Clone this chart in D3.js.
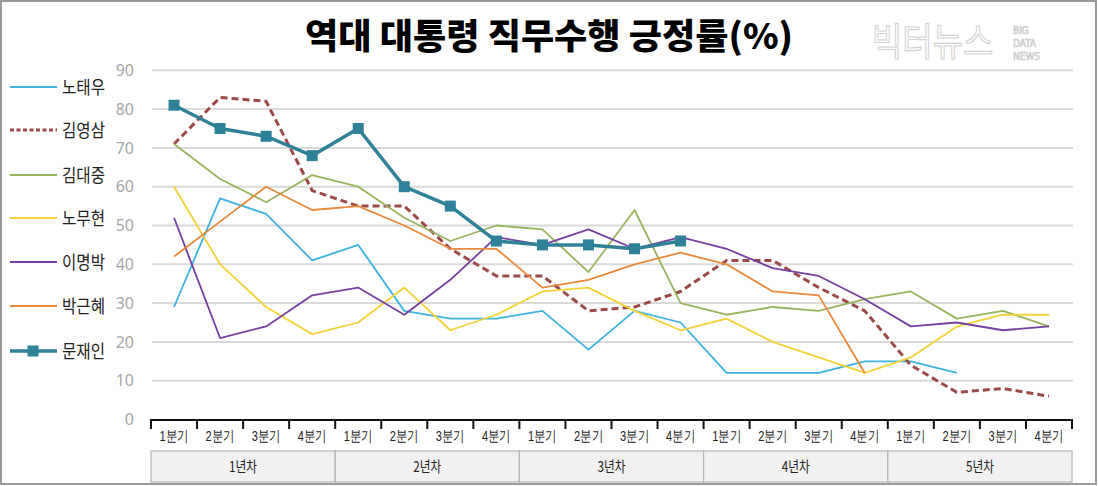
<!DOCTYPE html>
<html><head><meta charset="utf-8">
<script src="https://cdn.jsdelivr.net/npm/d3@7/dist/d3.min.js"></script>
<style>
html,body{margin:0;padding:0;background:#fff;}
svg{display:block;font-family:"Noto Sans CJK KR","Noto Sans",sans-serif;}
</style></head>
<body>
<svg id="chart" width="1098" height="486"></svg>
<script>
const title = "역대 대통령 직무수행 긍정률(%)";
const quarterLabels = ["1분기","2분기","3분기","4분기"];
const yearLabels = ["1년차","2년차","3년차","4년차","5년차"];
const yTicks = [0,10,20,30,40,50,60,70,80,90];

const seriesNames = ["노태우","김영삼","김대중","노무현","이명박","박근혜","문재인"];
const rohTaewoo   = [29,57,53,41,45,28,26,26,28,18,28,25,12,12,12,15,15,12];
const kimYoungsam = [71,83,82,59,55,55,44,37,37,28,29,33,41,41,34,28,14,7,8,6];
const kimDaejung  = [71,62,56,63,60,52,46,50,49,38,54,30,27,29,28,31,33,26,28,24];
const rohMoohyun  = [60,40,29,22,25,34,23,27,33,34,28,23,26,20,16,12,16,24,27,27];
const leeMyungbak = [52,21,24,32,34,27,36,47,45,49,44,47,44,39,37,31,24,25,23,24];
const parkGeunhye = [42,51,60,54,55,50,44,44,34,36,40,43,40,33,32,12];
const moonJaein   = [81,75,73,68,75,60,55,46,45,45,44,46];

const seriesValues = [rohTaewoo,kimYoungsam,kimDaejung,rohMoohyun,leeMyungbak,parkGeunhye,moonJaein];
const seriesColors = ["#3db3e0","#9b4a48","#98b45e","#f3d23a","#7540a0","#e8893c","#2f8199"];
const seriesWidths = [1.8,3,1.8,1.8,1.8,1.8,3.5];
const seriesDash   = [null,"7,4",null,null,null,null,null];

const svg = d3.select("#chart");

// frame
svg.append("rect").attr("x",1).attr("y",1).attr("width",1095).attr("height",483)
  .attr("fill","none").attr("stroke","#9a9a9a").attr("stroke-width",2);

// categories
const cats = [];
yearLabels.forEach((y,yi)=>quarterLabels.forEach((q,qi)=>cats.push(yi*4+qi)));

const x = d3.scaleBand().domain(cats).range([151,1072]).paddingInner(0).paddingOuter(0);
const y = d3.scaleLinear().domain([0,90]).range([419.5,70.3]);

// gridlines
svg.append("g").selectAll("line").data(yTicks.filter(t=>t>0)).join("line")
  .attr("x1",152).attr("x2",1073).attr("y1",d=>y(d)).attr("y2",d=>y(d))
  .attr("stroke","#dadada").attr("stroke-width",2);

// y axis labels
const yAxis = d3.axisLeft(y).tickValues(yTicks).tickSize(0).tickPadding(0);
const gy = svg.append("g").attr("transform","translate(134,0)").call(yAxis);
gy.select(".domain").remove();
gy.selectAll("text").attr("fill","#a6a6a6").attr("font-size",16)
  .attr("font-family","'Noto Sans','Open Sans',sans-serif");

// x axis baseline and ticks
const xAxis = d3.axisBottom(x).tickSize(0).tickFormat(d=>quarterLabels[d%4]);
const gx = svg.append("g").attr("transform","translate(0,419.5)").call(xAxis);
gx.select(".domain").attr("stroke","#111").attr("stroke-width",2);
gx.selectAll("text").attr("font-size",14.5).attr("fill","#222").attr("dy","1.25em")
  .attr("textLength",29).attr("lengthAdjust","spacingAndGlyphs");
svg.append("g").selectAll("line").data(d3.range(21)).join("line")
  .attr("x1",i=>i<20?x(i):x(19)+x.bandwidth()).attr("x2",i=>i<20?x(i):x(19)+x.bandwidth())
  .attr("y1",419).attr("y2",429).attr("stroke","#111").attr("stroke-width",2);

// year boxes
const yb = svg.append("g");
yearLabels.forEach((lab,i)=>{
  const x0 = x(i*4), x1 = x(i*4+3)+x.bandwidth();
  yb.append("rect").attr("x",x0).attr("y",451).attr("width",x1-x0).attr("height",31)
    .attr("fill","#f1f1f1").attr("stroke","#b5b5b5").attr("stroke-width",1.2);
  yb.append("text").attr("x",(x0+x1)/2).attr("y",471.5).attr("text-anchor","middle")
    .attr("font-size",15).attr("fill","#222").attr("textLength",28)
    .attr("lengthAdjust","spacingAndGlyphs").text(lab);
});

// lines
const line = d3.line().x((d,i)=>x(i)+x.bandwidth()/2).y(d=>y(d));
seriesValues.forEach((vals,si)=>{
  const p = svg.append("path").datum(vals).attr("d",line).attr("fill","none")
    .attr("stroke",seriesColors[si]).attr("stroke-width",seriesWidths[si])
    .attr("stroke-linejoin","round");
  if(seriesDash[si]) p.attr("stroke-dasharray",seriesDash[si]);
});
// markers for 문재인
svg.append("g").selectAll("rect").data(moonJaein).join("rect")
  .attr("x",(d,i)=>x(i)+x.bandwidth()/2-5.5).attr("y",d=>y(d)-5.5)
  .attr("width",11).attr("height",11).attr("fill",seriesColors[6]);

// legend
const legY = [87,130,175,218,262,306,351];
const lg = svg.append("g");
seriesNames.forEach((n,i)=>{
  const l = lg.append("line").attr("x1",10).attr("x2",57).attr("y1",legY[i]).attr("y2",legY[i])
    .attr("stroke",seriesColors[i]).attr("stroke-width",i===6?3.5:(i===1?3:2));
  if(seriesDash[i]) l.attr("stroke-dasharray","4,2.5");
  if(i===6) lg.append("rect").attr("x",27.5).attr("y",legY[i]-5.5).attr("width",11).attr("height",11).attr("fill",seriesColors[i]);
  lg.append("text").attr("x",62).attr("y",legY[i]+6.5).attr("font-size",18).attr("fill","#222")
    .attr("textLength",43).attr("lengthAdjust","spacingAndGlyphs").text(n);
});

// title
svg.append("text").attr("x",305).attr("y",49).attr("font-size",35).attr("font-weight",900)
  .attr("fill","#000").attr("textLength",488).attr("lengthAdjust","spacingAndGlyphs").text(title);

// watermark
svg.append("text").attr("transform","translate(872,55) scale(1,1.15)").attr("font-size",33)
  .attr("fill","#fff").attr("stroke","#d2d2d2").attr("stroke-width",1)
  .text("빅터뉴스");
["BIG","DATA","NEWS"].forEach((t,i)=>{
  svg.append("text").attr("x",1013).attr("y",34+i*13).attr("font-size",10)
    .attr("font-family","'DejaVu Sans Condensed','Liberation Sans Narrow',sans-serif")
    .attr("fill","#fff").attr("stroke","#c4c4c4").attr("stroke-width",0.6).text(t);
});
</script>
</body></html>
